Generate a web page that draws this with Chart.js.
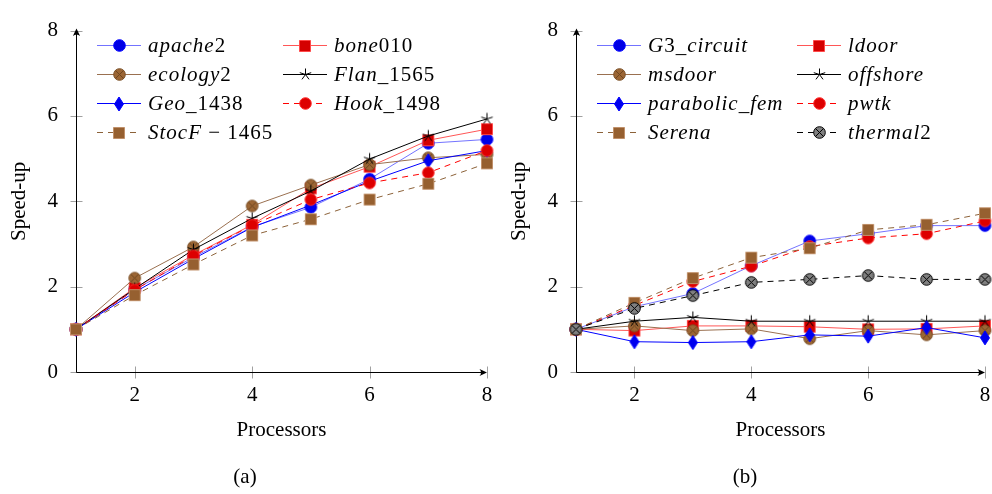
<!DOCTYPE html>
<html>
<head>
<meta charset="utf-8">
<script src="https://cdn.jsdelivr.net/npm/chart.js@4.4.0/dist/chart.umd.min.js"></script>
<style>
body{margin:0;background:#fff;}
#wrap{position:relative;width:992px;height:494px;overflow:hidden;}
.pane{position:absolute;top:0;}
.cap{position:absolute;top:464px;font:21px 'Liberation Serif';width:60px;text-align:center;color:#000;}
</style>
</head>
<body>
<div id="wrap">
  <div class="pane" style="left:0"><canvas id="chartA" width="500" height="494"></canvas></div>
  <div class="pane" style="left:500px"><canvas id="chartB" width="492" height="494"></canvas></div>
  <div class="cap" style="left:215px">(a)</div>
  <div class="cap" style="left:715px">(b)</div>
</div>
<script>
// datos
var procs = [1, 2, 3, 4, 5, 6, 7, 8];
var xTicks = [2, 4, 6, 8];
var yTicks = [0, 2, 4, 6, 8];

// (a)
var apache2  = [1, 1.93, 2.69, 3.40, 3.86, 4.52, 5.36, 5.45];
var bone010  = [1, 1.97, 2.74, 3.45, 4.30, 4.81, 5.43, 5.69];
var ecology2 = [1, 2.20, 2.93, 3.89, 4.38, 4.86, 5.02, 5.10];
var flan1565 = [1, 1.95, 2.87, 3.60, 4.24, 4.99, 5.53, 5.93];
var geo1438  = [1, 1.87, 2.65, 3.39, 3.91, 4.47, 4.95, 5.19];
var hook1498 = [1, 1.92, 2.72, 3.44, 4.04, 4.43, 4.67, 5.19];
var stocf1465 = [1, 1.80, 2.52, 3.20, 3.58, 4.04, 4.41, 4.89];

// (b)
var g3circuit = [1, 1.53, 1.84, 2.49, 3.07, 3.24, 3.43, 3.43];
var ldoor     = [1, 0.97, 1.08, 1.08, 1.06, 1.00, 1.01, 1.08];
var msdoor    = [1, 1.08, 0.97, 1.01, 0.78, 0.97, 0.87, 0.97];
var offshore  = [1, 1.19, 1.28, 1.19, 1.19, 1.19, 1.19, 1.19];
var parabolic = [1, 0.71, 0.69, 0.71, 0.87, 0.84, 1.04, 0.80];
var pwtk      = [1, 1.56, 2.12, 2.48, 2.94, 3.14, 3.24, 3.54];
var serena    = [1, 1.62, 2.20, 2.68, 2.90, 3.33, 3.45, 3.72];
var thermal2  = [1, 1.49, 1.79, 2.10, 2.17, 2.26, 2.17, 2.17];

var FONT = 'Liberation Serif';
Chart.defaults.font.family = FONT;
Chart.defaults.font.size = 21;
Chart.defaults.color = '#000';

// marcadores dibujados en un canvas pequeño
function marca(tipo, relleno, borde, cruz) {
    var c = document.createElement('canvas');
    var w = 15, h = 15;
    if (tipo == 'diamond') { w = 12; h = 16; }
    if (tipo == 'square') { w = 14; h = 14; }
    c.width = w; c.height = h;
    var g = c.getContext('2d');
    var cx = w / 2, cy = h / 2;
    g.fillStyle = relleno; g.strokeStyle = borde; g.lineWidth = 1;
    g.beginPath();
    if (tipo == 'circle' || tipo == 'otimes') { g.arc(cx, cy, 5.8, 0, Math.PI * 2); }
    if (tipo == 'square') { g.rect(1.5, 1.5, 11, 11); }
    if (tipo == 'diamond') { g.moveTo(cx, 1); g.lineTo(w - 1.5, cy); g.lineTo(cx, h - 1); g.lineTo(1.5, cy); g.closePath(); }
    if (tipo == 'star') {
        for (var i = 0; i < 5; i++) {
            var a = -Math.PI / 2 + i * 2 * Math.PI / 5;
            g.moveTo(cx, cy); g.lineTo(cx + 6 * Math.cos(a), cy + 6 * Math.sin(a));
        }
        g.stroke();
        return c;
    }
    g.fill(); g.stroke();
    if (tipo == 'otimes') {
        var d = 4.1;
        g.strokeStyle = cruz; g.beginPath();
        g.moveTo(cx - d, cy - d); g.lineTo(cx + d, cy + d);
        g.moveTo(cx + d, cy - d); g.lineTo(cx - d, cy + d);
        g.stroke();
    }
    return c;
}

var mkCircleBlue = marca('circle', '#0000e6', '#0000ff');
var mkSquareRed = marca('square', '#d40000', '#ff4a4a');
var mkOtimesBrown = marca('otimes', '#9c6634', '#7a4f26', '#6e4620');
var mkStar = marca('star', '#000', '#000');
var mkDiamond = marca('diamond', '#0000ee', '#0000ff');
var mkCircleRed = marca('circle', '#dd0000', '#ff2a2a');
var mkSquareBrown = marca('square', '#966030', '#c0906a');
var mkOtimesGray = marca('otimes', '#808080', '#000', '#000');

var DASH = [6, 5];

function serie(label, data, color, dashed, mk, idx) {
    return {
        label: label,
        data: data.map(function(v, i) { return {x: procs[i], y: v}; }),
        borderColor: color,
        borderWidth: 1,
        borderDash: dashed ? DASH : [],
        pointStyle: mk,
        pointRadius: 6,
        pointHoverRadius: 6,
        tension: 0,
        fill: false,
        clip: false,
        order: -idx
    };
}

function flecha(ctx, x, y, ang) {
    ctx.save();
    ctx.translate(x, y); ctx.rotate(ang);
    ctx.fillStyle = '#000';
    ctx.beginPath();
    ctx.moveTo(1, 0); ctx.lineTo(-6.5, -3.6);
    ctx.quadraticCurveTo(-3.5, 0, -6.5, 3.6);
    ctx.closePath(); ctx.fill();
    ctx.restore();
}

// ejes con flechas y marcas que cruzan el eje
var ejesPlugin = {
    id: 'ejes',
    beforeDatasetsDraw: function(chart) {
        var ctx = chart.ctx, a = chart.chartArea, xs = chart.scales.x, ys = chart.scales.y;
        var x0 = Math.round(a.left) + 0.5, y0 = Math.round(a.bottom) + 0.5;
        ctx.save();
        ctx.strokeStyle = '#a0a0a0'; ctx.lineWidth = 1;
        xTicks.forEach(function(v) {
            var px = Math.round(xs.getPixelForValue(v)) + 0.5;
            ctx.beginPath(); ctx.moveTo(px, y0 - 6); ctx.lineTo(px, y0 + 6); ctx.stroke();
        });
        yTicks.forEach(function(v) {
            var py = Math.round(ys.getPixelForValue(v)) + 0.5;
            ctx.beginPath(); ctx.moveTo(x0 - 6, py); ctx.lineTo(x0 + 6, py); ctx.stroke();
        });
        ctx.strokeStyle = '#000';
        ctx.beginPath();
        ctx.moveTo(x0, y0); ctx.lineTo(x0, a.top);
        ctx.moveTo(x0, y0); ctx.lineTo(a.right - 1, y0);
        ctx.stroke();
        flecha(ctx, x0, a.top - 1, -Math.PI / 2);
        flecha(ctx, a.right - 1, y0, 0);
        ctx.restore();
    }
};

function textoMixto(ctx, s, x, y) {
    var partes = s.match(/[A-Za-z]+|[^A-Za-z]+/g);
    partes.forEach(function(p) {
        ctx.font = (/[A-Za-z]/.test(p) ? 'italic ' : '') + '21px "' + FONT + '"';
        ctx.fillText(p, x, y);
        x += ctx.measureText(p).width;
    });
}

// leyenda en dos columnas
var leyendaPlugin = {
    id: 'leyenda2',
    afterDraw: function(chart, args, opts) {
        var ctx = chart.ctx;
        ctx.save();
        if ('letterSpacing' in ctx) ctx.letterSpacing = '1px';
        chart.data.datasets.forEach(function(ds, i) {
            var x = i % 2 == 0 ? opts.col1 : opts.col2;
            var y = opts.top + Math.floor(i / 2) * opts.step;
            ctx.strokeStyle = ds.borderColor; ctx.lineWidth = 1;
            ctx.setLineDash(ds.borderDash);
            ctx.beginPath(); ctx.moveTo(x, y + 0.5); ctx.lineTo(x + 44, y + 0.5); ctx.stroke();
            ctx.setLineDash([]);
            var m = ds.pointStyle;
            ctx.drawImage(m, Math.round(x + 22 - m.width / 2), Math.round(y - m.height / 2 + 0.5));
            ctx.fillStyle = '#000'; ctx.textBaseline = 'middle';
            textoMixto(ctx, ds.label, x + 51, y + 1);
        });
        ctx.restore();
    }
};

function opciones(padRight, col2) {
    return {
        responsive: false,
        animation: false,
        layout: {padding: {left: 0, right: padRight, top: 14, bottom: 0}},
        plugins: {
            legend: {display: false},
            tooltip: {enabled: false},
            leyenda2: {col1: 97, col2: col2, top: 45, step: 29}
        },
        scales: {
            x: {
                type: 'linear', min: 1, max: 8,
                afterBuildTicks: function(s) { s.ticks = xTicks.map(function(v) { return {value: v}; }); },
                afterFit: function(s) { s.height = 122; s.paddingLeft = 0; s.paddingRight = 0; },
                grid: {display: false, drawTicks: false},
                border: {display: false},
                ticks: {padding: 11, color: '#000'},
                title: {display: true, text: 'Processors', color: '#000', padding: {top: 0, bottom: 51}}
            },
            y: {
                min: 0, max: 8,
                afterBuildTicks: function(s) { s.ticks = yTicks.map(function(v) { return {value: v}; }); },
                afterFit: function(s) { s.width = 76; },
                grid: {display: false, drawTicks: false},
                border: {display: false},
                ticks: {padding: 18, color: '#000'},
                title: {display: true, text: 'Speed-up', color: '#000', padding: {top: 7, bottom: 0}}
            }
        }
    };
}

var blueLight = 'rgba(40,40,255,0.65)';
var redLight = 'rgba(255,30,30,0.75)';
var brownLine = '#9a7050';
var brownDash = '#8c6239';

new Chart(document.getElementById('chartA'), {
    type: 'line',
    data: {
        datasets: [
            serie('apache2', apache2, blueLight, false, mkCircleBlue, 0),
            serie('bone010', bone010, redLight, false, mkSquareRed, 1),
            serie('ecology2', ecology2, brownLine, false, mkOtimesBrown, 2),
            serie('Flan_1565', flan1565, '#000', false, mkStar, 3),
            serie('Geo_1438', geo1438, '#0000ff', false, mkDiamond, 4),
            serie('Hook_1498', hook1498, '#ff0000', true, mkCircleRed, 5),
            serie('StocF \u2212 1465', stocf1465, brownDash, true, mkSquareBrown, 6)
        ]
    },
    options: opciones(13, 283),
    plugins: [ejesPlugin, leyendaPlugin]
});

new Chart(document.getElementById('chartB'), {
    type: 'line',
    data: {
        datasets: [
            serie('G3_circuit', g3circuit, blueLight, false, mkCircleBlue, 0),
            serie('ldoor', ldoor, redLight, false, mkSquareRed, 1),
            serie('msdoor', msdoor, brownLine, false, mkOtimesBrown, 2),
            serie('offshore', offshore, '#000', false, mkStar, 3),
            serie('parabolic_fem', parabolic, '#0000ff', false, mkDiamond, 4),
            serie('pwtk', pwtk, '#ff0000', true, mkCircleRed, 5),
            serie('Serena', serena, brownDash, true, mkSquareBrown, 6),
            serie('thermal2', thermal2, '#000', true, mkOtimesGray, 7)
        ]
    },
    options: opciones(5, 297),
    plugins: [ejesPlugin, leyendaPlugin]
});
</script>
</body>
</html>
